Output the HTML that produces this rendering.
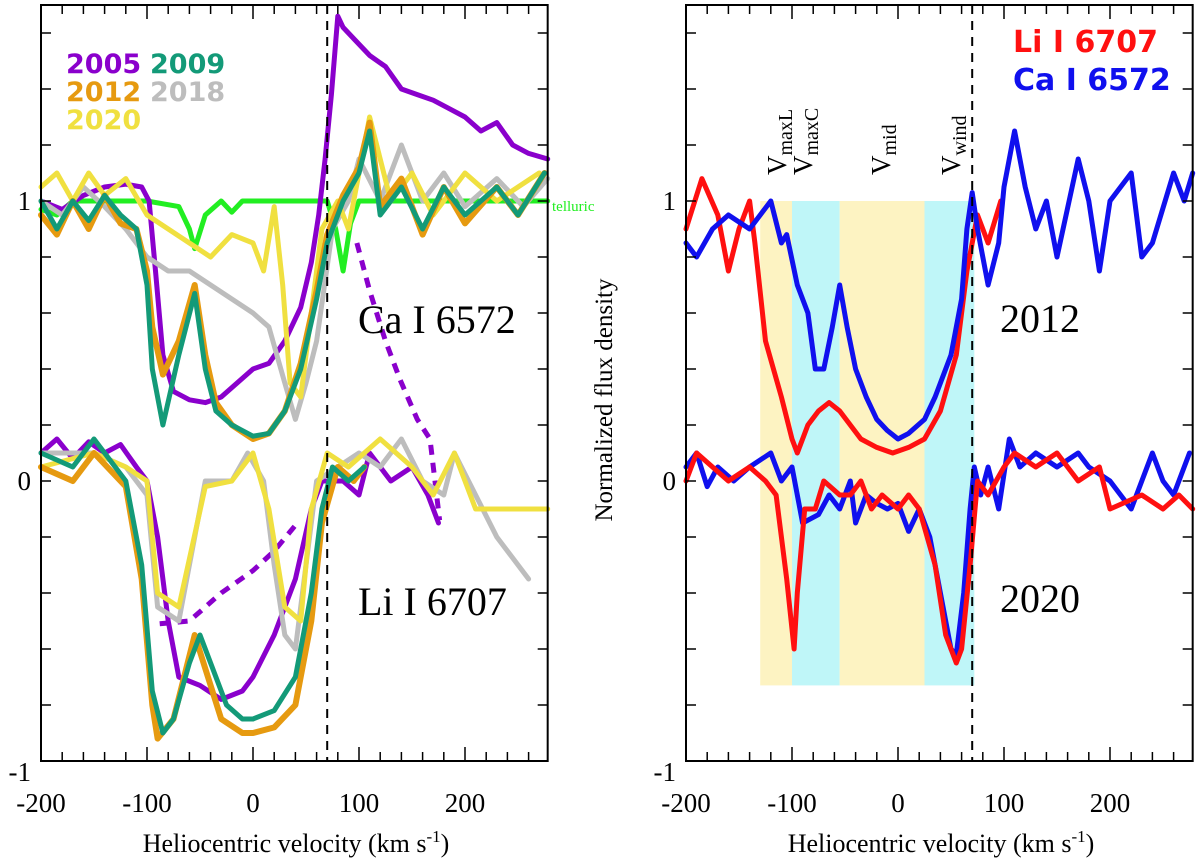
<!DOCTYPE html>
<html><head><meta charset="utf-8"><style>
body{margin:0;background:#fff}
svg text{font-family:"Liberation Serif",serif}
svg text.sans{font-family:"DejaVu Sans","Liberation Sans",sans-serif;font-weight:bold}
</style></head><body>
<svg id="chart" width="1200" height="861" viewBox="0 0 1200 861" xmlns="http://www.w3.org/2000/svg"></svg>
<script>
const xTicks=[-200,-100,0,100,200];
const yTicks=[-1,0,1];
// Left panel data [velocity, flux]
const caP05=[[-200,1.0],[-180,0.97],[-160,1.02],[-140,1.05],[-120,1.06],[-105,1.05],[-98,1.0],[-92,0.75],[-85,0.45],[-75,0.32],[-60,0.29],[-45,0.28],[-30,0.3],[-15,0.35],[0,0.4],[15,0.42],[30,0.5],[45,0.62],[55,0.78],[62,0.95],[68,1.15],[74,1.38],[80,1.66],[85,1.62],[95,1.58],[110,1.52],[125,1.48],[140,1.4],[155,1.38],[170,1.36],[185,1.33],[200,1.3],[215,1.25],[230,1.28],[245,1.2],[260,1.17],[278,1.15]];
const caP05dash=[[98,0.85],[110,0.68],[125,0.5],[139,0.36],[155,0.22],[167,0.15],[176,-0.14]];
const caG09=[[-200,1.0],[-185,0.9],[-170,1.0],[-155,0.93],[-140,1.02],[-125,0.95],[-110,0.9],[-100,0.7],[-95,0.4],[-85,0.2],[-70,0.45],[-55,0.67],[-45,0.4],[-35,0.25],[-20,0.2],[0,0.16],[15,0.17],[30,0.25],[45,0.4],[60,0.65],[70,0.85],[85,1.0],[100,1.1],[110,1.25],[120,0.95],[140,1.05],[160,0.9],[180,1.05],[200,0.95],[230,1.05],[250,0.95],[275,1.1]];
const caO12=[[-200,0.95],[-185,0.88],[-170,1.0],[-155,0.9],[-140,1.02],[-125,0.92],[-110,0.9],[-100,0.75],[-95,0.55],[-85,0.38],[-70,0.5],[-55,0.7],[-45,0.45],[-35,0.28],[-20,0.2],[0,0.15],[15,0.17],[30,0.25],[45,0.42],[60,0.68],[70,0.88],[85,1.02],[100,1.12],[110,1.28],[120,0.98],[140,1.08],[160,0.88],[180,1.05],[200,0.92],[230,1.05],[250,0.95],[275,1.1]];
const caY18=[[-200,1.0],[-180,0.95],[-160,1.05],[-140,0.98],[-120,0.9],[-100,0.8],[-80,0.75],[-60,0.75],[-40,0.7],[-20,0.65],[0,0.6],[15,0.55],[30,0.35],[40,0.22],[50,0.35],[60,0.5],[75,0.9],[90,1.0],[100,1.15],[120,1.0],[140,1.2],[160,1.0],[180,1.1],[200,0.98],[230,1.08],[255,0.98],[278,1.08]];
const caY20=[[-200,1.05],[-185,1.1],[-170,1.0],[-155,1.1],[-140,1.02],[-120,1.08],[-100,0.95],[-80,0.9],[-60,0.85],[-40,0.8],[-20,0.88],[0,0.85],[10,0.75],[20,0.98],[28,0.7],[35,0.35],[45,0.3],[55,0.6],[65,0.9],[80,1.0],[90,0.9],[110,1.3],[130,1.0],[150,1.1],[170,0.95],[200,1.1],[230,1.0],[270,1.1]];
const tell=[[-200,0.97],[-185,0.95],[-170,1.0],[-100,1.0],[-70,0.98],[-60,0.9],[-55,0.83],[-45,0.95],[-30,1.0],[-20,0.96],[-10,1.0],[70,1.0],[78,0.9],[85,0.75],[92,0.92],[100,1.0],[278,1.0]];
const liP05=[[-200,0.1],[-185,0.15],[-170,0.08],[-155,0.14],[-140,0.1],[-125,0.13],[-110,0.05],[-100,0.0],[-90,-0.2],[-80,-0.5],[-70,-0.7],[-50,-0.73],[-30,-0.78],[-10,-0.75],[0,-0.7],[20,-0.55],[40,-0.35],[55,-0.1],[65,0.0],[85,0.0],[100,-0.05],[110,0.1],[130,0.0],[150,0.05],[165,-0.05],[175,-0.15]];
const liP05dash=[[-88,-0.51],[-60,-0.5],[-30,-0.4],[0,-0.32],[20,-0.25],[44,-0.14]];
const liG09=[[-200,0.1],[-170,0.05],[-150,0.15],[-120,0.0],[-105,-0.3],[-95,-0.75],[-85,-0.9],[-75,-0.85],[-60,-0.65],[-50,-0.55],[-40,-0.65],[-25,-0.8],[-10,-0.85],[0,-0.85],[20,-0.82],[40,-0.7],[55,-0.4],[65,-0.1],[75,0.05],[90,0.0],[105,0.05]];
const liO12=[[-200,0.05],[-170,0.0],[-150,0.1],[-120,-0.02],[-105,-0.35],[-95,-0.8],[-90,-0.92],[-75,-0.85],[-55,-0.55],[-30,-0.85],[-10,-0.9],[0,-0.9],[20,-0.88],[40,-0.8],[55,-0.5],[65,-0.15],[80,0.05],[95,0.0],[105,0.05]];
const liY18=[[-200,0.1],[-150,0.1],[-120,0.05],[-100,-0.05],[-90,-0.45],[-70,-0.5],[-45,0.0],[-20,0.0],[-5,0.1],[10,0.0],[20,-0.3],[30,-0.55],[40,-0.6],[50,-0.3],[60,0.0],[80,0.05],[100,0.1],[120,0.05],[140,0.15],[160,0.0],[180,-0.05],[190,0.1],[210,-0.05],[230,-0.2],[260,-0.35]];
const liY20=[[-200,0.05],[-150,0.1],[-120,0.05],[-100,0.0],[-90,-0.4],[-70,-0.45],[-45,-0.02],[-20,0.0],[0,0.1],[15,-0.1],[30,-0.45],[45,-0.5],[55,-0.1],[70,0.1],[90,0.05],[120,0.15],[150,0.05],[170,-0.05],[190,0.1],[210,-0.1],[240,-0.1],[278,-0.1]];
// Right panel data
const rCa12=[[-200,0.85],[-190,0.8],[-175,0.9],[-160,0.95],[-140,0.9],[-130,0.95],[-120,1.0],[-110,0.85],[-105,0.88],[-95,0.7],[-85,0.6],[-78,0.4],[-70,0.4],[-62,0.55],[-55,0.7],[-48,0.55],[-40,0.4],[-30,0.3],[-20,0.22],[-10,0.18],[0,0.15],[10,0.17],[25,0.22],[35,0.3],[50,0.45],[60,0.65],[65,0.9],[70,1.03],[75,0.9],[85,0.7],[95,0.85],[100,1.05],[110,1.25],[120,1.05],[130,0.9],[140,1.0],[150,0.8],[170,1.15],[180,1.0],[190,0.75],[200,1.0],[220,1.1],[230,0.8],[240,0.85],[260,1.1],[270,1.0],[278,1.1]];
const rLi12=[[-200,0.9],[-185,1.08],[-170,0.95],[-160,0.75],[-150,0.9],[-140,1.0],[-135,0.85],[-125,0.5],[-110,0.3],[-100,0.15],[-95,0.1],[-85,0.2],[-75,0.25],[-65,0.28],[-55,0.25],[-45,0.2],[-35,0.15],[-20,0.12],[-5,0.1],[10,0.12],[25,0.15],[40,0.25],[55,0.45],[65,0.75],[75,0.95],[85,0.85],[97,1.0]];
const rCa20=[[-200,0.05],[-190,0.1],[-180,-0.02],[-170,0.05],[-155,0.0],[-140,0.05],[-120,0.1],[-110,0.0],[-100,0.05],[-90,-0.15],[-75,-0.12],[-65,-0.05],[-55,-0.1],[-45,0.0],[-40,-0.15],[-30,-0.05],[-20,-0.08],[-10,-0.1],[0,-0.08],[10,-0.18],[20,-0.1],[30,-0.2],[40,-0.4],[50,-0.6],[55,-0.62],[62,-0.4],[68,-0.1],[72,0.05],[78,-0.05],[85,0.05],[95,-0.1],[105,0.15],[115,0.05],[130,0.1],[150,0.05],[170,0.1],[180,0.05],[200,0.0],[220,-0.1],[240,0.1],[250,0.0],[260,-0.05],[275,0.1]];
const rLi20=[[-200,0.0],[-190,0.1],[-175,0.05],[-160,0.0],[-140,0.05],[-125,0.0],[-115,-0.05],[-105,-0.35],[-98,-0.6],[-95,-0.4],[-88,-0.1],[-78,-0.1],[-70,0.0],[-55,-0.05],[-45,-0.05],[-35,0.0],[-25,-0.1],[-15,-0.05],[0,-0.1],[10,-0.05],[20,-0.1],[35,-0.3],[45,-0.55],[55,-0.65],[60,-0.6],[68,-0.3],[75,0.0],[85,-0.05],[100,0.05],[110,0.1],[130,0.05],[150,0.1],[170,0.0],[190,0.05],[200,-0.1],[230,-0.05],[250,-0.1],[265,-0.05],[278,-0.1]];
const bands=[[-130,-100,'#fdf3c2'],[-100,-55,'#bff6f8'],[-55,25,'#fdf3c2'],[25,72,'#bff6f8']];

const NS='http://www.w3.org/2000/svg';
const svg=document.getElementById('chart');
function mk(tag,attrs,parent){const e=document.createElementNS(NS,tag);for(const k in attrs)e.setAttribute(k,attrs[k]);(parent||svg).appendChild(e);return e;}
const yTop=5,yBot=761;
const yS=v=>481-v*280;
function panel(x0,name){
  const xS=v=>x0+(v+200)*1.06;
  const g=mk('g',{});
  
  
  return {xS,g};
}
function line(p,data,color,w,dash,name){
  const d=data.map((pt,i)=>(i?'L':'M')+p.xS(pt[0]).toFixed(1)+','+yS(pt[1]).toFixed(1)).join('');
  const e=mk('path',{d:d,fill:'none',stroke:color,'stroke-width':w,'stroke-linejoin':'round','stroke-linecap':'round'},p.g);
  if(dash){e.setAttribute('stroke-dasharray',dash);e.setAttribute('stroke-linecap','butt');}
  
  
}
function axes(p,x0){
  const x1=x0+478*1.06;
  const fr=mk('rect',{x:x0,y:yTop,width:x1-x0,height:yBot-yTop,fill:'none',stroke:'#000','stroke-width':2},p.g);
  
  
  for(let v=-200;v<=270;v+=20){
    const L=(v%100===0)?14:9;const x=p.xS(v);
    mk('line',{x1:x,x2:x,y1:yBot,y2:yBot-L,stroke:'#000','stroke-width':1.5},p.g);
    mk('line',{x1:x,x2:x,y1:yTop,y2:yTop+L,stroke:'#000','stroke-width':1.5},p.g);
  }
  for(let k=-5;k<=8;k++){const y=yS(k*0.2);if(y<yTop||y>yBot)continue;
    mk('line',{x1:x0,x2:x0+10,y1:y,y2:y,stroke:'#000','stroke-width':1.5},p.g);
    mk('line',{x1:x1,x2:x1-10,y1:y,y2:y,stroke:'#000','stroke-width':1.5},p.g);}
  xTicks.forEach(v=>{const t=mk('text',{x:p.xS(v),y:812,'text-anchor':'middle','font-size':27},p.g);t.textContent=v;
    
    });
  yTicks.forEach(v=>{const t=mk('text',{x:x0-10,y:yS(v)+(v===-1?20:9),'text-anchor':'end','font-size':27},p.g);t.textContent=v;
    
    });
  const xl=mk('text',{x:x0+255,y:852,'text-anchor':'middle','font-size':26},p.g);
  xl.innerHTML='Heliocentric velocity (km s<tspan dy="-10" font-size="17">-1</tspan><tspan dy="10">)</tspan>';
  
  
  const dl=mk('line',{x1:p.xS(70),x2:p.xS(70),y1:yTop,y2:yBot,stroke:'#000','stroke-width':2,'stroke-dasharray':'9,7'},p.g);
  
  
}
function txt(p,x,y,s,size,color,name,cls){
  const t=mk('text',{x:x,y:y,'font-size':size,fill:color},p.g);
  if(cls)t.setAttribute('class',cls);
  t.textContent=s;
  
  
  return t;
}
// Left panel
const L=panel(41,'left-panel');
line(L,tell,'#22ee22',5,null,'telluric-line');
line(L,caP05,'#8a00cc',5,null,'ca-2005');
line(L,caP05dash,'#8a00cc',5,'10,8','ca-2005-dashed');
line(L,caY18,'#bdbdbd',5,null,'ca-2018');
line(L,caY20,'#f0e040',5,null,'ca-2020');
line(L,caO12,'#e69a10',6,null,'ca-2012');
line(L,caG09,'#139a78',5,null,'ca-2009');
line(L,liP05,'#8a00cc',5,null,'li-2005');
line(L,liP05dash,'#8a00cc',5,'10,8','li-2005-dashed');
line(L,liY18,'#bdbdbd',5,null,'li-2018');
line(L,liY20,'#f0e040',5,null,'li-2020');
line(L,liO12,'#e69a10',6,null,'li-2012');
line(L,liG09,'#139a78',5,null,'li-2009');
axes(L,41);
txt(L,66,73,'2005',27,'#8a00cc','legend-2005','sans');
txt(L,150,73,'2009',27,'#139a78','legend-2009','sans');
txt(L,66,101,'2012',27,'#e69a10','legend-2012','sans');
txt(L,150,101,'2018',27,'#bdbdbd','legend-2018','sans');
txt(L,66,129,'2020',27,'#f0e040','legend-2020','sans');
txt(L,552,211,'telluric',15,'#22ee22','telluric-label');
txt(L,358,333,'Ca I 6572',40,'#000','ca-line-label');
txt(L,358,615,'Li I 6707',40,'#000','li-line-label');
// Right panel
const R=panel(686,'right-panel');
bands.forEach(b=>{const r=mk('rect',{x:R.xS(b[0]),y:yS(1),width:R.xS(b[1])-R.xS(b[0]),height:yS(-0.73)-yS(1),fill:b[2]},R.g);
  
  });
line(R,rLi12,'#ff1010',5,null,'li-2012-right');
line(R,rCa12,'#1010ee',5,null,'ca-2012-right');
line(R,rCa20,'#1010ee',5,null,'ca-2020-right');
line(R,rLi20,'#ff1010',5,null,'li-2020-right');
axes(R,686);
txt(R,1013,52,'Li I 6707',30,'#ff1010','legend-li','sans');
txt(R,1013,90,'Ca I 6572',30,'#1010ee','legend-ca','sans');
txt(R,1000,332,'2012',40,'#000','year-2012-label');
txt(R,1000,612,'2020',40,'#000','year-2020-label');
[['V','maxL',786],['V','maxC',812],['V','mid',890],['V','wind',960]].forEach(a=>{
  const t=mk('text',{x:0,y:0,'font-size':27,transform:'translate('+a[2]+',175) rotate(-90)'},R.g);
  t.innerHTML=a[0]+'<tspan dy="6" font-size="20">'+a[1]+'</tspan>';
  
  
});
const yl=mk('text',{x:0,y:0,'font-size':25,'text-anchor':'middle',transform:'translate(612,400) rotate(-90)'});
yl.textContent='Normalized flux density';


</script>
</body></html>
